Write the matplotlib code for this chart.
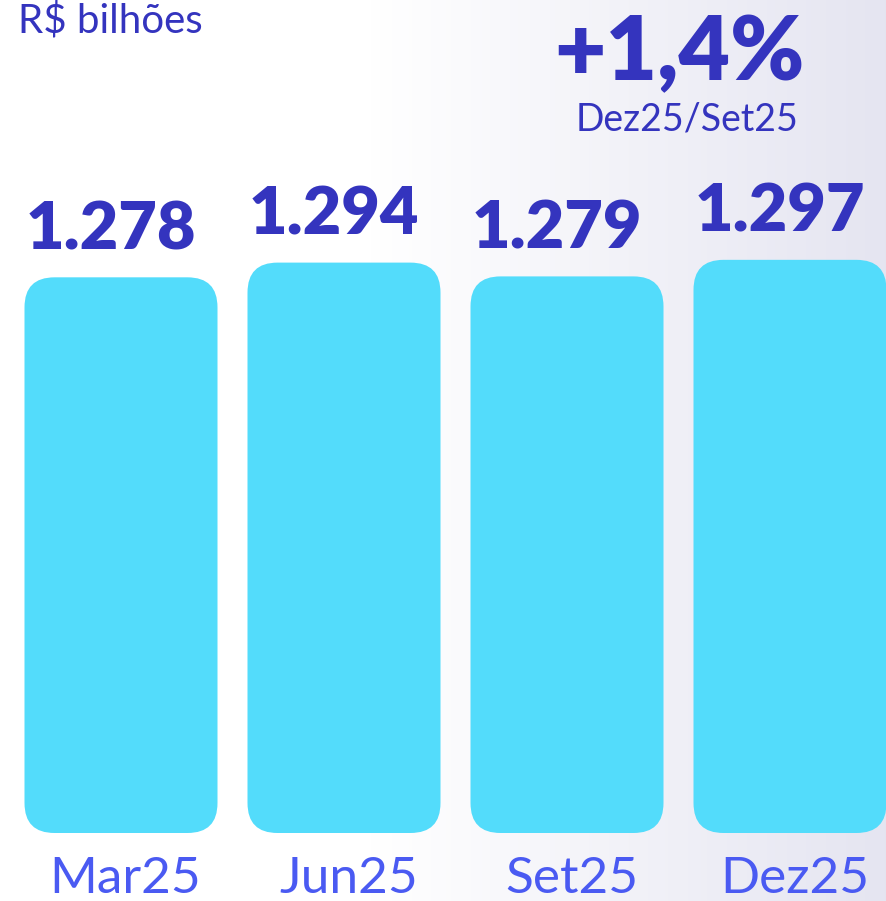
import numpy as np
import matplotlib
matplotlib.use("Agg")
import matplotlib.pyplot as plt
from matplotlib.patches import FancyBboxPatch

categories = ["Mar25", "Jun25", "Set25", "Dez25"]
values = [1278, 1294, 1279, 1297]
value_labels = ["1.278", "1.294", "1.279", "1.297"]
unit_label = "R$ bilhões"
growth_label = "+1,4%"
growth_period = "Dez25/Set25"

W, H = 886, 901
fig = plt.figure(figsize=(W / 100, H / 100), dpi=100)

# background gradient
bg = fig.add_axes([0, 0, 1, 1], zorder=0)
g = np.linspace(0, 1, 600)
t = np.clip((g - 0.42) / 0.58, 0, 1)
white = np.array([1.0, 1.0, 1.0])
lav = np.array([0.898, 0.898, 0.945])
row = white[None, :] * (1 - t[:, None]) + lav[None, :] * t[:, None]
bg.imshow(row[None, :, :], aspect="auto", extent=[0, 1, 0, 1])
bg.set_axis_off()

ax = fig.add_axes([0, 0, 1, 1], zorder=1)
ax.patch.set_alpha(0)
k = 0.92            # px per unit
base = 674          # baseline value
px_unit_x = 223
ax.set_xlim(-121 / px_unit_x, 3 + (W - 790) / px_unit_x)
ax.set_ylim(base - 68 / k, base + (H - 68) / k)
ax.set_axis_off()

x = np.arange(len(categories))
width = 193 / px_unit_x
bars = ax.bar(x, np.array(values) - base, bottom=base, width=width, alpha=0)
r = 30 / px_unit_x
aspect = (1 / k) / (1 / px_unit_x)
for b in bars:
    p = FancyBboxPatch((b.get_x(), b.get_y()), b.get_width(), b.get_height(),
                       boxstyle=f"round,pad=0,rounding_size={r}",
                       mutation_aspect=aspect, facecolor="#53DCFB",
                       edgecolor="none")
    ax.add_patch(p)

dark = "#3434BE"
for xi, v, lab in zip(x, values, value_labels):
    ax.text(xi - 0.045, v + 28 / k, lab, ha="center", va="baseline",
            fontsize=48, fontweight="heavy", family="Lato", color=dark)

for xi, c in zip(x, categories):
    ax.text(xi + 0.02, base - 68 / k + 8 / k, c, ha="center", va="baseline",
            fontsize=37, family="Lato", fontweight="normal", color="#4A5AF2")

fig.text(18 / W, 1 - 33 / H, unit_label, ha="left", va="baseline",
         fontsize=29, family="Lato", fontweight="normal", color=dark)
fig.text(679 / W, 1 - 80 / H, growth_label, ha="center", va="baseline",
         fontsize=64, family="Lato", fontweight="heavy", color=dark)
fig.text(687 / W, 1 - 130 / H, growth_period, ha="center", va="baseline",
         fontsize=27, family="Lato", color=dark)

fig.savefig("out.png", dpi=100)
